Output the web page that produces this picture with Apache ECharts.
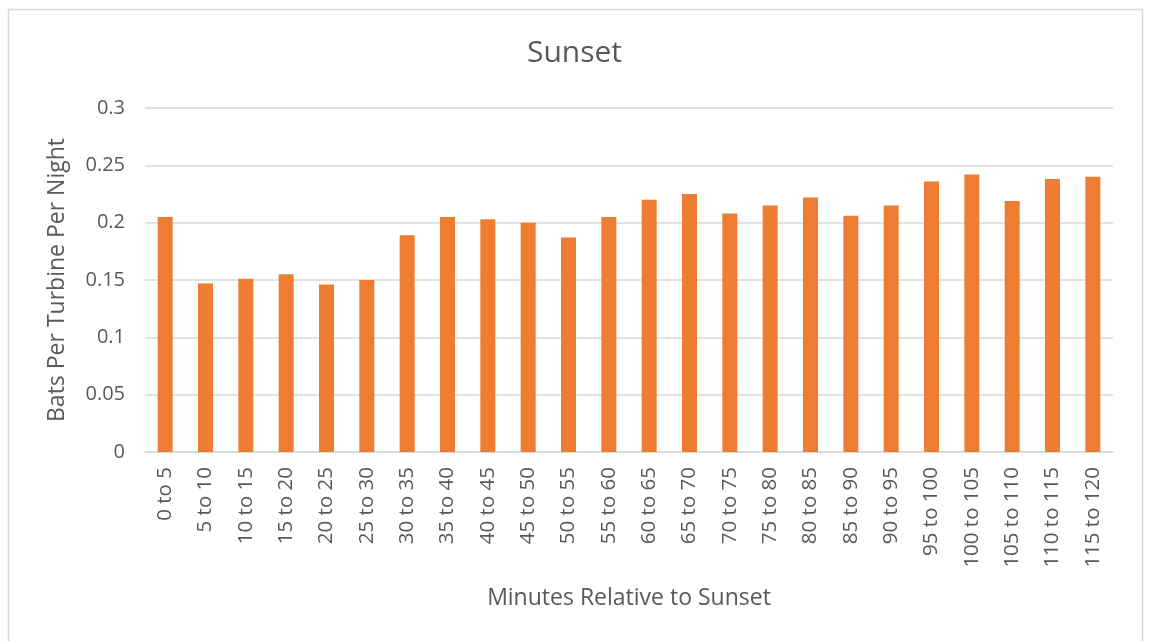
<!DOCTYPE html>
<html><head><meta charset="utf-8">
<script src="https://cdn.jsdelivr.net/npm/echarts@6/dist/echarts.min.js"></script>
<style>html,body{margin:0;padding:0;background:#fff}#c{width:1149px;height:641px}</style>
</head><body><div id="c"></div>
<script>
const categories = ["0 to 5","5 to 10","10 to 15","15 to 20","20 to 25","25 to 30","30 to 35","35 to 40","40 to 45","45 to 50","50 to 55","55 to 60","60 to 65","65 to 70","70 to 75","75 to 80","80 to 85","85 to 90","90 to 95","95 to 100","100 to 105","105 to 110","110 to 115","115 to 120"];
const values = [0.205,0.147,0.151,0.155,0.146,0.150,0.189,0.205,0.203,0.200,0.187,0.205,0.220,0.225,0.208,0.215,0.222,0.206,0.215,0.236,0.242,0.219,0.238,0.240];
const chart = echarts.init(document.getElementById('c'), null, {renderer:'canvas'});
const font = '"Open Sans", "Noto Sans", sans-serif';
chart.setOption({
  animation:false,
  backgroundColor:'#fff',
  textStyle:{fontFamily:font},
  graphic:[{type:'rect',shape:{x:8.5,y:9.5,width:1134,height:650},style:{fill:'none',stroke:'#D9D9D9',lineWidth:1.5},silent:true}],
  title:{text:'Sunset',left:'center',top:33,textStyle:{fontFamily:font,fontSize:30,fontWeight:'normal',color:'#595959'}},
  grid:{left:145,right:36,top:108,bottom:189,containLabel:false},
  xAxis:{type:'category',data:categories,name:'Minutes Relative to Sunset',nameLocation:'middle',nameGap:135,
    nameTextStyle:{fontSize:23,color:'#595959',fontFamily:font},
    axisLine:{lineStyle:{color:'#D9D9D9',width:1.5}},axisTick:{show:false},
    axisLabel:{rotate:90,interval:0,fontSize:20.5,color:'#595959',margin:15,fontFamily:font}},
  yAxis:{type:'value',min:0,max:0.3,interval:0.05,name:'Bats Per Turbine Per Night',nameLocation:'middle',nameGap:76,
    nameTextStyle:{fontSize:23,color:'#595959',fontFamily:font},
    axisLine:{show:false},axisTick:{show:false},
    axisLabel:{fontSize:20,color:'#595959',margin:20,fontFamily:font,formatter:v=>String(+v.toFixed(2))},
    splitLine:{lineStyle:{color:'#D9D9D9',width:1.5}}},
  series:[{type:'bar',data:values,barWidth:15,itemStyle:{color:'#ED7D31'}}]
});
</script></body></html>
